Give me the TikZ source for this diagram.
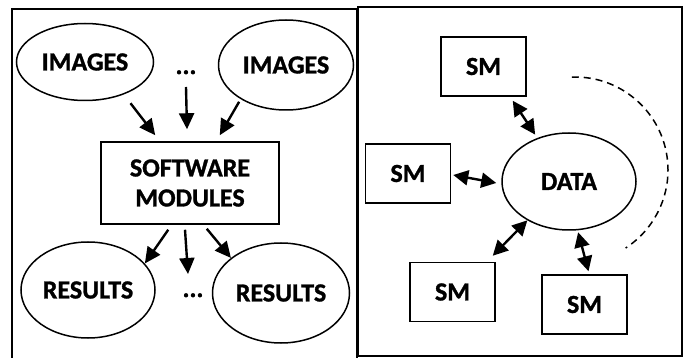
\documentclass[tikz,border=0pt]{standalone}
\usepackage{fontspec}
\setmainfont{Carlito}[BoldFeatures={FakeBold=1.2}]
\usetikzlibrary{arrows.meta,shapes.geometric}

\begin{document}
\begin{tikzpicture}[x=1pt,y=-1pt,
  lbl/.style={font=\bfseries\fontsize{26}{30}\selectfont, align=center},
  oval/.style={ellipse, draw, line width=1.5pt, inner sep=0pt, lbl},
  smbox/.style={rectangle, draw, line width=1.5pt, minimum width=85pt,
    minimum height=59pt, inner sep=0pt, lbl},
  arr/.style={line width=2.4pt, -{Triangle[length=16pt,width=15pt]}},
  darr/.style={line width=2.4pt,
    {Triangle[length=15pt,width=15pt]}-{Triangle[length=15pt,width=15pt]}},
  panel/.style={draw, line width=1.6pt},
]
\useasboundingbox (0,0) rectangle (683,358);
\clip (0,0) rectangle (683,358);

% the two panels
\draw[panel] (12,9) rectangle (357,372);
\draw[line width=2.2pt] (358,7) rectangle (682,356);

% left panel: images -> software modules -> results
\node[oval, minimum width=137pt, minimum height=77pt] (img1) at (85,62) {IMAGES};
\node[oval, minimum width=135pt, minimum height=90pt] (img2) at (286,65) {IMAGES};
\node[lbl, anchor=base] (dots1) at (186,74) {...};
\node[rectangle, draw, line width=1.5pt, minimum width=178pt, minimum height=82pt,
  inner sep=0pt, lbl] (sw) at (190,183) {SOFTWARE\\MODULES};
\node[oval, minimum width=134pt, minimum height=96pt] (res1) at (88,290) {RESULTS};
\node[oval, minimum width=137pt, minimum height=100pt] (res2) at (281,293) {RESULTS};
\node[lbl, anchor=base] (dots2) at (193,297) {...};

\draw[arr, shorten <=11pt] (img1.-40) -- ([xshift=55pt,yshift=6pt]sw.north west);
\draw[arr] ([yshift=-13pt]dots1.base) -- ([xshift=-3pt,yshift=12pt]sw.north);
\draw[arr, shorten <=3pt] (img2.-143) -- ([xshift=-60pt,yshift=6pt]sw.north east);

\draw[arr] ([xshift=68pt,yshift=-5pt]sw.south west) -- (res1.25);
\draw[arr] ([xshift=-5pt,yshift=-5pt]sw.south) -- ([xshift=-5pt,yshift=23pt]dots2.base);
\draw[arr] ([xshift=-73pt,yshift=-4pt]sw.south east) -- (res2.145);

% right panel: software modules around shared data
\node[smbox] (sm1) at (483.5,66.5) {SM};
\node[smbox] (sm2) at (408,173.5) {SM};
\node[oval, minimum width=134pt, minimum height=97pt] (data) at (569,181.5) {DATA};
\node[smbox] (sm3) at (452.5,292) {SM};
\node[smbox] (sm4) at (584.5,304.5) {SM};

\draw[darr, shorten >=4pt] ([xshift=-14pt,yshift=-4pt]sm1.south east) -- (data.126);
\draw[darr] ([xshift=2pt,yshift=-1.5pt]sm2.east) -- ([xshift=-5pt,yshift=-1.5pt]data.west);
\draw[darr] ([xshift=-3pt,yshift=6pt]sm3.north east) -- (data.-137.5);
\draw[darr, shorten <=2pt] (data.-80) -- ([xshift=4pt,yshift=3pt]sm4.north);

% dashed arc suggesting further modules
\draw[line width=1.5pt, dash pattern=on 7pt off 5pt]
  (575,170) ++(-92:93) arc[start angle=-92, end angle=57, radius=93];
\end{tikzpicture}
\end{document}
